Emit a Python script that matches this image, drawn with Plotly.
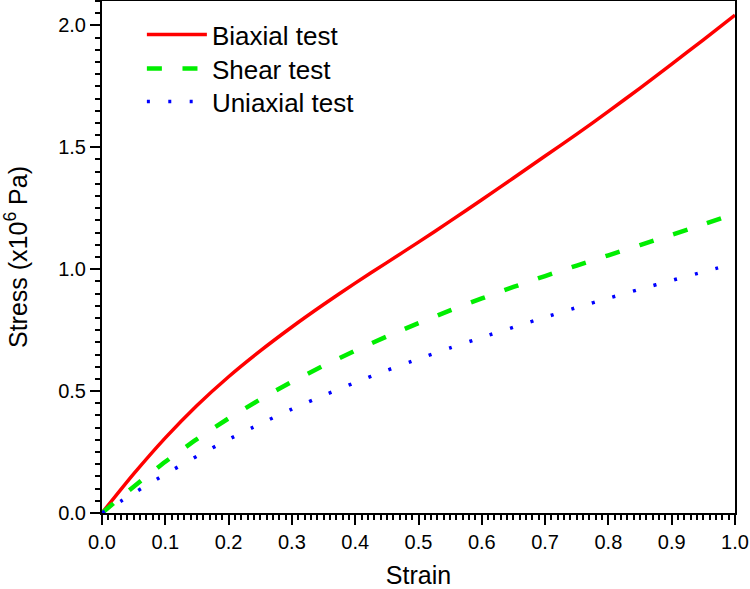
import plotly.graph_objects as go

strain = [0.0, 0.05, 0.1, 0.15, 0.2, 0.25, 0.3, 0.35, 0.4, 0.45, 0.5,
          0.55, 0.6, 0.65, 0.7, 0.75, 0.8, 0.85, 0.9, 0.95, 1.0]
biaxial = [0.0, 0.16, 0.308, 0.441, 0.559, 0.665, 0.763, 0.855, 0.943, 1.027, 1.111,
           1.197, 1.285, 1.374, 1.464, 1.554, 1.647, 1.743, 1.841, 1.941, 2.042]
shear = [0.0, 0.108, 0.210, 0.303, 0.388, 0.466, 0.538, 0.604, 0.666, 0.724, 0.779,
         0.831, 0.880, 0.927, 0.972, 1.015, 1.057, 1.099, 1.141, 1.184, 1.228]
uniaxial = [0.0, 0.081, 0.159, 0.233, 0.302, 0.366, 0.426, 0.482, 0.535, 0.585, 0.632,
            0.677, 0.720, 0.762, 0.803, 0.843, 0.881, 0.918, 0.954, 0.989, 1.024]

names = ["Biaxial test", "Shear test", "Uniaxial test"]

FONT = "Liberation Sans, Arial, sans-serif"

fig = go.Figure()
fig.add_trace(go.Scatter(x=strain, y=biaxial, mode="lines", name=names[0], legend="legend",
                         showlegend=True,
                         line=dict(color="#ff0000", width=3.5, shape="spline", smoothing=0.6)))
fig.add_trace(go.Scatter(x=strain, y=shear, mode="lines", name=names[1], legend="legend2",
                         showlegend=True,
                         line=dict(color="#00ee00", width=4.5, dash="15px,20.6px",
                                   shape="spline", smoothing=0.6)))
fig.add_trace(go.Scatter(x=strain, y=uniaxial, mode="lines", name=names[2], legend="legend3",
                         showlegend=True,
                         line=dict(color="#0000ff", width=3.5, dash="3px,18.4px",
                                   shape="spline", smoothing=0.6)))

axis_common = dict(
    showline=True, linecolor="black", linewidth=2, mirror=True,
    ticks="outside", ticklen=10, tickwidth=2, tickcolor="black",
    showgrid=False, zeroline=False,
    tickfont=dict(family=FONT, size=20, color="black"),
    tickformat=".1f",
)

fig.update_xaxes(
    range=[0, 1], dtick=0.1, tick0=0,
    minor=dict(ticks="outside", ticklen=5, tickwidth=1.5, tickcolor="black", dtick=0.01),
    title=dict(text="Strain", font=dict(family=FONT, size=25, color="black"), standoff=16),
    **axis_common,
)
fig.update_yaxes(
    range=[0, 2.1], dtick=0.5, tick0=0,
    minor=dict(ticks="outside", ticklen=5, tickwidth=1.5, tickcolor="black", dtick=0.05),
    title=dict(text="Stress (x10<sup>6</sup> Pa)", font=dict(family=FONT, size=25, color="black"),
               standoff=33),
    **axis_common,
)

legend_common = dict(x=0.063, xanchor="left", yanchor="top",
                     bgcolor="rgba(0,0,0,0)", borderwidth=0,
                     font=dict(family=FONT, size=26, color="black"),
                     itemwidth=60)

fig.update_layout(
    width=750, height=589,
    showlegend=True,
    margin=dict(l=102, r=15, t=1, b=76, autoexpand=False),
    paper_bgcolor="white", plot_bgcolor="white",
    font=dict(family=FONT, color="black"),
    legend=dict(y=0.9805, **legend_common),
    legend2=dict(y=0.9141, **legend_common),
    legend3=dict(y=0.8496, **legend_common),
)

fig.write_html("out.html", config={"displayModeBar": False},
               post_script="document.body.style.margin='0';")
